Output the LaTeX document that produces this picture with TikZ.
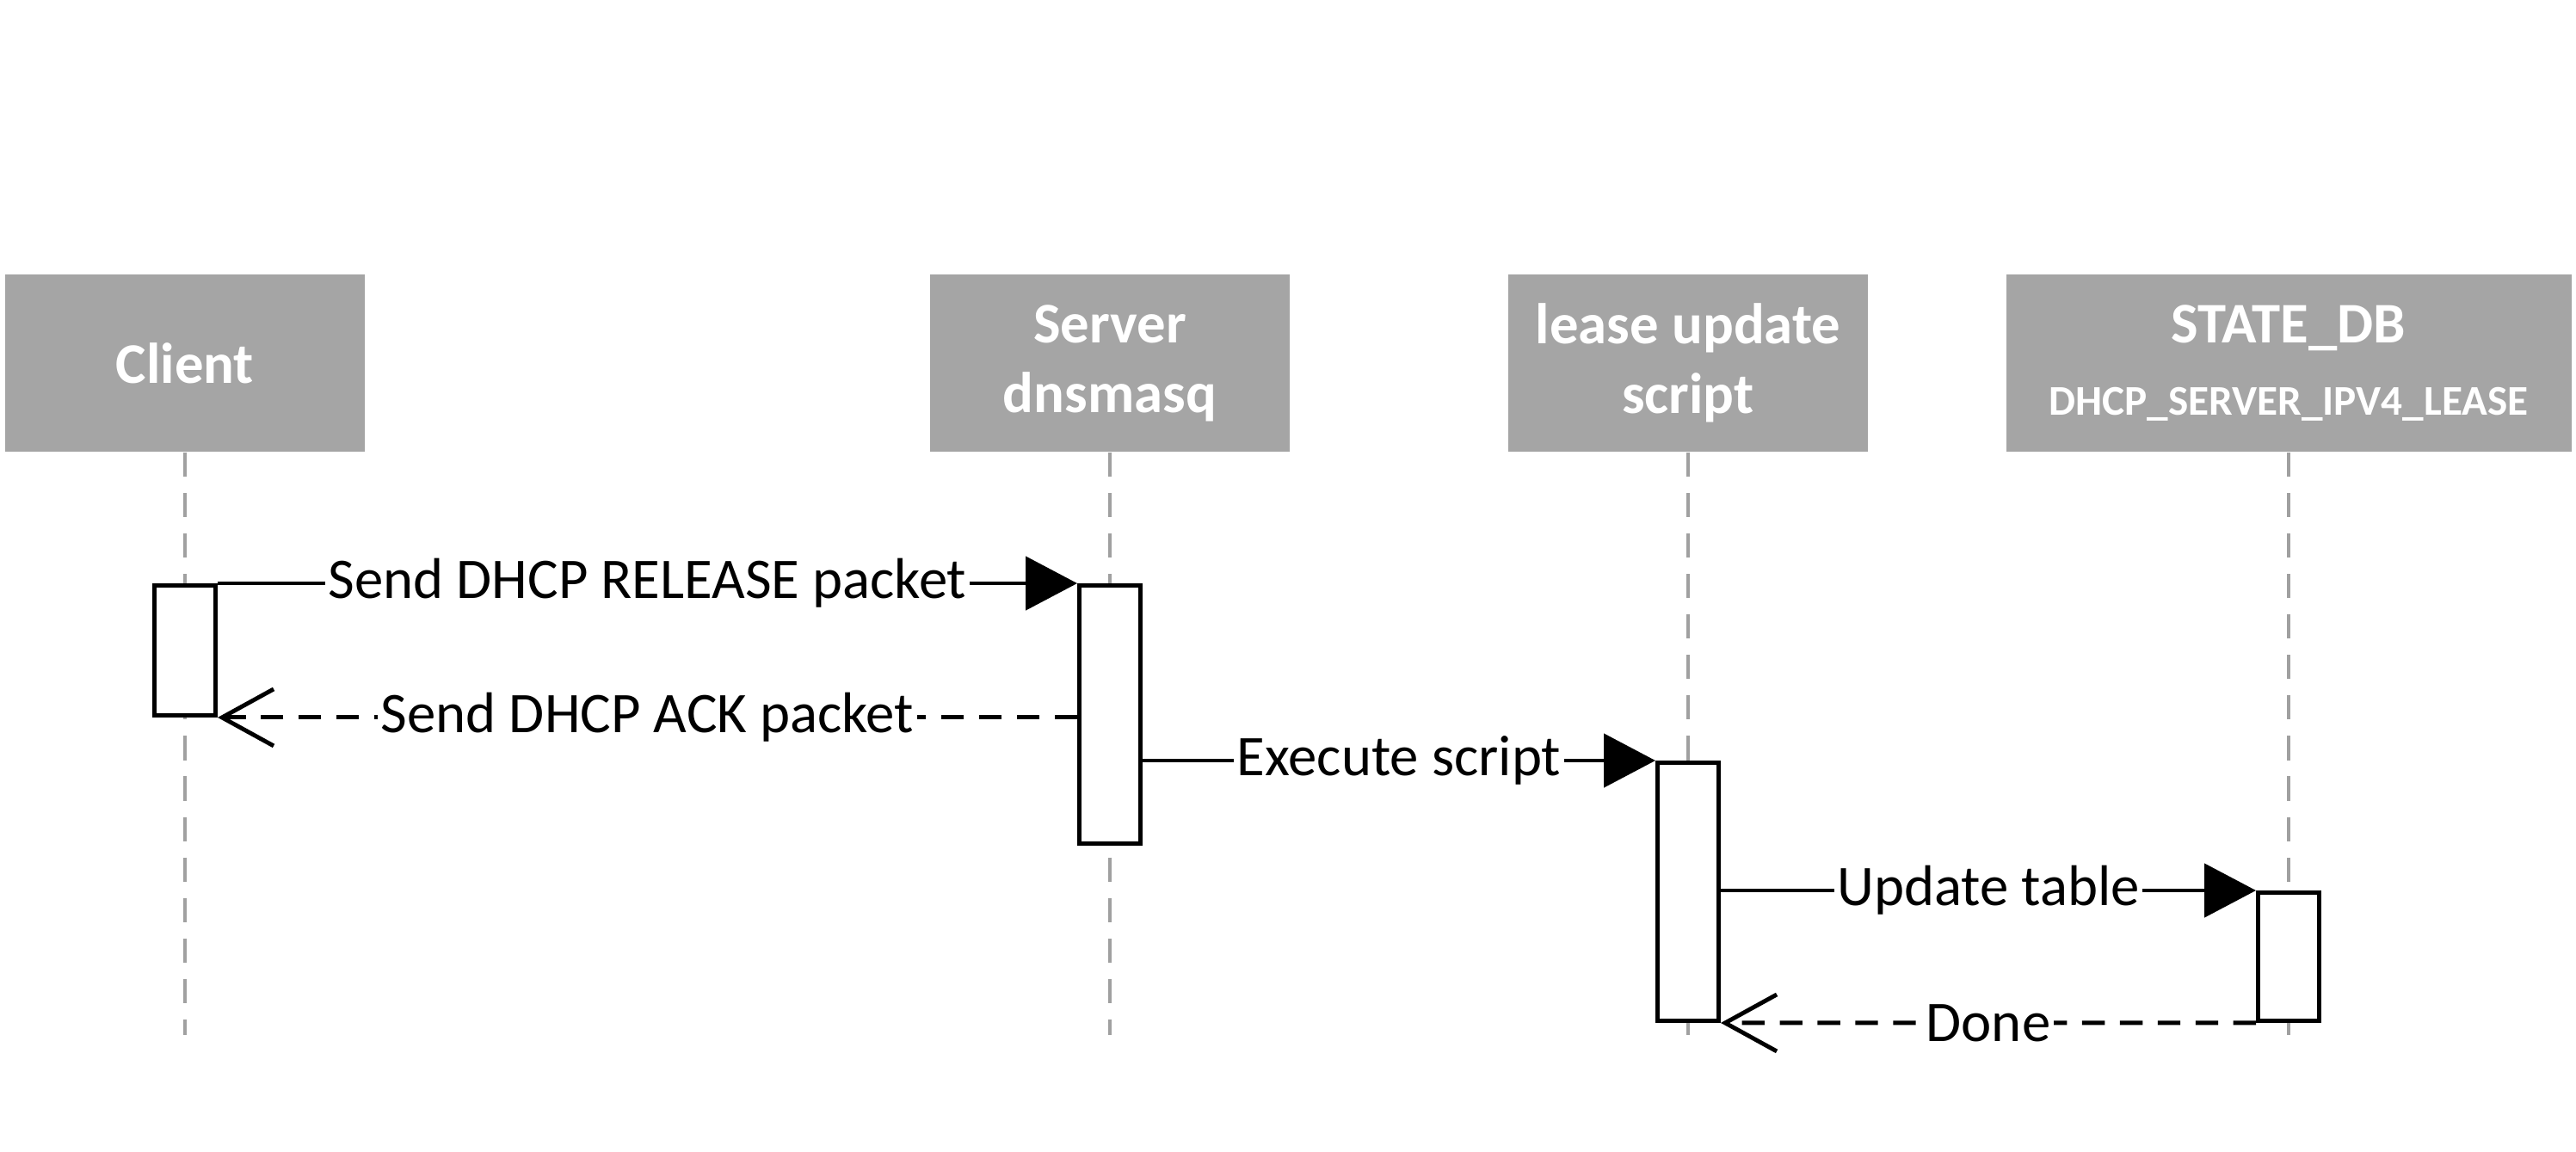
\documentclass[tikz,border=0pt]{standalone}
\usepackage{fontspec}
\setmainfont{Carlito}
\usetikzlibrary{arrows.meta}
\definecolor{headgray}{RGB}{165,165,165}
\definecolor{lifegray}{RGB}{160,160,160}
\tikzset{
  head/.style={fill=headgray, text=white, font=\fontsize{19}{23}\selectfont\bfseries,
    minimum width=4.18cm, minimum height=2.06cm, align=center, inner sep=0pt},
  life/.style={lifegray, line width=1pt, dash pattern=on 8pt off 5.4pt},
  act/.style={draw, fill=white, line width=1.4pt, minimum width=0.71cm, inner sep=0pt, anchor=north},
  call/.style={line width=1.4pt, -{Triangle[length=0.6cm,width=0.62cm]}},
  back/.style={line width=1.4pt, dash pattern=on 7.5pt off 5pt, -{Straight Barb[length=0.6cm,width=0.66cm]}},
  msglabel/.style={fill=white, inner sep=1pt, font=\fontsize{19}{23}\selectfont}
}
\begin{document}
\begin{tikzpicture}
\useasboundingbox (0,0) rectangle (29.94,-13.38);
% heads
\node[head] (client) at (2.15,-4.22) {Client};
\node[head] (server) at (12.90,-4.22) {Server\\dnsmasq};
\node[head] (script) at (19.62,-4.22) {lease update\\script};
\node[head, minimum width=6.57cm] (statedb) at (26.60,-4.22)
  {STATE\_DB\\[1pt]{\fontsize{14}{17}\selectfont DHCP\_SERVER\_IPV4\_LEASE}};
% lifelines
\foreach \p in {client,server,script,statedb}
  \draw[life] (\p.south) -- (\p.south |- 0,-12.03);
% activations
\node[act, minimum height=1.51cm] (aclient) at (client.south |- 0,-6.78) {};
\node[act, minimum height=3.0cm] (aserver) at (server.south |- 0,-6.78) {};
\node[act, minimum height=3.0cm] (ascript) at (script.south |- 0,-8.84) {};
\node[act, minimum height=1.49cm] (astatedb) at (statedb.south |- 0,-10.35) {};
% messages
\draw[call] (aclient.north east) -- node[msglabel] {Send DHCP RELEASE packet} (aserver.north west);
\draw[back] (aserver.west |- aclient.south) -- node[msglabel] {Send DHCP ACK packet} (aclient.south east);
\draw[call] (aserver.east |- ascript.north) -- node[msglabel] {Execute script} (ascript.north west);
\draw[call] (ascript.east |- astatedb.north) -- node[msglabel] {Update table} (astatedb.north west);
\draw[back] (astatedb.south west) -- node[msglabel] {Done} (ascript.south east);
\end{tikzpicture}
\end{document}
